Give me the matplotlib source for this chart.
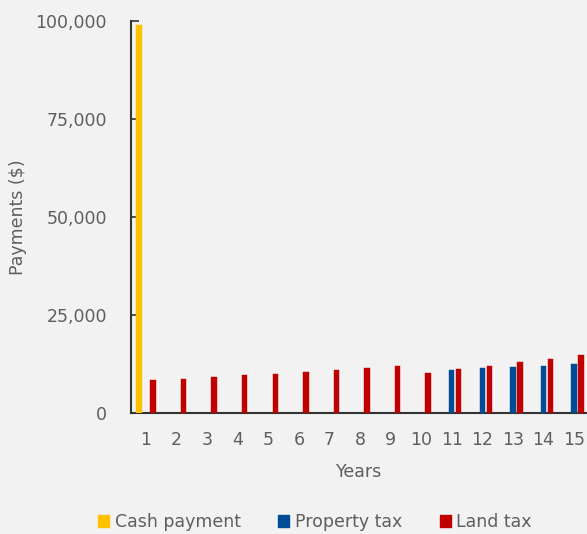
import matplotlib
matplotlib.use("Agg")
import matplotlib.pyplot as plt
from matplotlib.patches import Patch
from matplotlib.ticker import FuncFormatter
import numpy as np

years = list(range(1, 16))
cash_payment = [99000] + [0] * 14
property_tax = [0] * 10 + [11000, 11400, 11700, 12000, 12500]
land_tax = [8400, 8750, 9200, 9600, 9950, 10450, 10900, 11400, 11900, 10200,
            11100, 12000, 12900, 13900, 14900]

series_names = ["Cash payment", "Property tax", "Land tax"]
series_colors = ["#FFC000", "#004C97", "#C00000"]

plt.rcParams['font.family'] = ['DejaVu Sans']
text_color = "#5E5E5E"
bg = "#F2F2F2"
fs = 12.5

fig = plt.figure(figsize=(5.87, 5.34), dpi=100, facecolor=bg)
ax = fig.add_axes([131/587, (534-413)/534, (587-131)/587, (413-21)/534], facecolor=bg)

x = np.array(years)
off = 0.229
w = 0.18
for vals, o, c in zip([cash_payment, property_tax, land_tax], [-off, 0, off], series_colors):
    vals = np.array(vals, dtype=float)
    m = vals > 0
    ax.bar(x[m] + o, vals[m], width=w, color=c, edgecolor=c, linewidth=0.3, zorder=3)

ax.set_xlim(0.509, 15.425)
ax.set_ylim(0, 100000)
ax.set_yticks([0, 25000, 50000, 75000, 100000])
ax.yaxis.set_major_formatter(FuncFormatter(lambda v, p: f"{int(v):,}"))
ax.set_xticks(x)
ax.set_xticklabels([str(y) for y in years])

for s in ["top", "right"]:
    ax.spines[s].set_visible(False)
ax.spines["left"].set_color("#333333")
ax.spines["bottom"].set_color("#333333")
ax.spines["left"].set_linewidth(1.5)
ax.spines["bottom"].set_linewidth(1.5)

ax.tick_params(axis="y", direction="in", length=6, width=1.2, color="#333333",
               labelsize=fs, labelcolor=text_color, pad=17.3)
ax.tick_params(axis="x", length=0, labelsize=fs, labelcolor=text_color, pad=13)

ax.set_ylabel("Payments ($)", fontsize=fs, color=text_color)
ax.yaxis.set_label_coords(-0.227, 0.5)
ax.set_xlabel("Years", fontsize=fs, color=text_color, labelpad=10)

handles = [Patch(facecolor=c, edgecolor=c) for c in series_colors]
fig.legend(handles, series_names, loc="center", bbox_to_anchor=(315/587, 1 - 522/534),
           ncol=3, frameon=False, fontsize=fs, labelcolor=text_color,
           handlelength=0.63, handleheight=0.63, handletextpad=0.34, columnspacing=2.15,
           borderpad=0, borderaxespad=0)

fig.savefig("out.png", dpi=100, facecolor=bg)
